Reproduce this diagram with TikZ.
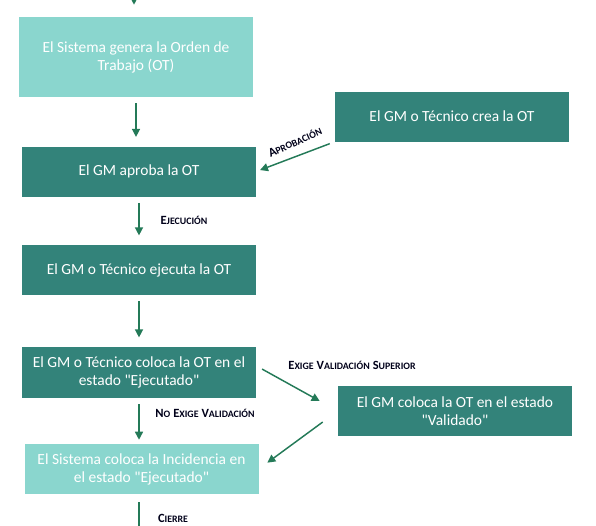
\documentclass[tikz,border=0pt]{standalone}
\usepackage{fontspec}
\setmainfont{Carlito}[Ligatures=TeXOff]
\usetikzlibrary{positioning,arrows.meta}
\definecolor{tealdark}{RGB}{51,131,122}
\definecolor{teallight}{RGB}{138,214,206}
\definecolor{arrowgreen}{RGB}{36,122,88}
\newcommand{\scap}[2]{{\fontsize{9.4}{10}\selectfont #1}{\fontsize{7.4}{8}\selectfont #2}}

\begin{document}
\begin{tikzpicture}[
	x=0.75pt, y=-0.75pt,
	darkbox/.style={rectangle, fill=tealdark, text=white, align=center,
	minimum width=175.5pt, minimum height=37.5pt, inner sep=0pt,
	font=\fontsize{11.6}{13.5}\selectfont},
	lightbox/.style={darkbox, fill=teallight},
	lbl/.style={font=\bfseries, inner sep=0pt, text=black!90!blue},
	arr/.style={draw=arrowgreen, line width=1.1pt,
	-{Triangle[width=6pt,length=6pt]}, shorten <=4.5pt, shorten >=7pt}
	]
	\useasboundingbox (0,0) rectangle (596,525);
	
	\node[lightbox, minimum height=60pt] (sistema) at (136,57) {El Sistema genera la Orden de\\Trabajo (OT)};
	\node[darkbox] (aprueba) at (139,171.5) {El GM aproba la OT};
	\node[darkbox] (crea) at (452,116.5) {El GM o Técnico crea la OT};
	\node[darkbox] (ejecuta) at (139,270) {El GM o Técnico ejecuta la OT};
	\node[darkbox, minimum height=38.25pt] (ejecutado) at (139,372.5) {El GM o Técnico coloca la OT en el\\estado "Ejecutado"};
	\node[darkbox] (validado) at (455,411) {El GM coloca la OT en el estado\\"Validado"};
	\node[lightbox] (incidencia) at (141.5,469) {El Sistema coloca la Incidencia en\\el estado "Ejecutado"};
	
	\coordinate (inicio) at (134,-20);
	\coordinate (fin) at (139,545);
	
	\draw[arr, shorten >=9pt] (inicio) -- (inicio |- sistema.north);
	\draw[arr] (sistema.south) -- (sistema.south |- aprueba.north);
	\draw[arr, shorten <=4pt, shorten >=3pt] (crea.south west) -- (aprueba.east);
	\draw[arr] (aprueba.south) -- (ejecuta.north);
	\draw[arr] (ejecuta.south) -- (ejecutado.north);
	\draw[arr, shorten <=5pt, shorten >=15.5pt] ([yshift=5pt]ejecutado.east) -- (validado.west);
	\draw[arr, shorten >=3pt] (ejecutado.south) -- (ejecutado.south |- incidencia.north);
	\draw[arr, shorten <=14pt, shorten >=8pt] (validado.west) -- (incidencia.east);
	\draw[draw=arrowgreen, line width=1.1pt, shorten <=6pt] (incidencia.south -| fin) -- (fin);
	
	% etiquetas
	\node[lbl, rotate=24] (laprob) at (295,142) {\scap{A}{PROBACIÓN}};
	\node[lbl] (lejec) at (184,220) {\scap{E}{JECUCIÓN}};
	\node[lbl] (lexige) at (352,365) {\scap{E}{XIGE} \scap{V}{ALIDACIÓN} \scap{S}{UPERIOR}};
	\node[lbl] (lnoexige) at (205,413) {\scap{N}{O} \scap{E}{XIGE} \scap{V}{ALIDACIÓN}};
	\node[lbl] (lcierre) at (173,518) {\scap{C}{IERRE}};
\end{tikzpicture}
\end{document}
